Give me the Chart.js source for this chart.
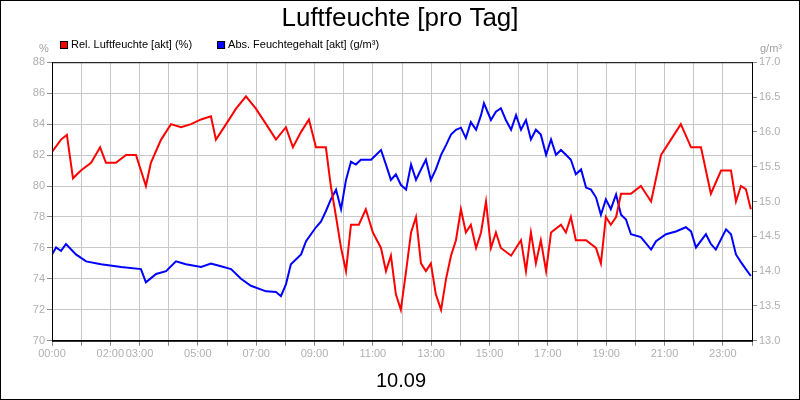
<!DOCTYPE html>
<html>
<head>
<meta charset="utf-8">
<script src="https://cdn.jsdelivr.net/npm/chart.js@4"></script>
<style>
  body { margin: 0; background: #fff; }
  #wrap { width: 798px; height: 398px; border: 1px solid #000; }
</style>
</head>
<body>
<div id="wrap"><canvas id="chart" width="798" height="398"></canvas></div>
<script>
// hours of day, rel. humidity (%)
const relHours = [0, 0.31, 0.51, 0.72, 0.99, 1.34, 1.65, 1.85, 2.19, 2.54, 2.88, 3.22, 3.39, 3.74, 4.08, 4.42, 4.77, 5.11, 5.45, 5.62, 5.97, 6.31, 6.65, 6.99, 7.34, 7.68, 8.02, 8.26, 8.54, 8.81, 9.05, 9.39, 9.56, 9.74, 9.91, 10.08, 10.25, 10.52, 10.76, 11.0, 11.28, 11.45, 11.62, 11.79, 11.96, 12.14, 12.31, 12.48, 12.65, 12.82, 12.99, 13.16, 13.34, 13.51, 13.68, 13.85, 14.02, 14.19, 14.36, 14.54, 14.71, 14.88, 15.05, 15.22, 15.39, 15.74, 16.08, 16.25, 16.42, 16.59, 16.76, 16.94, 17.11, 17.45, 17.62, 17.79, 17.96, 18.31, 18.65, 18.82, 18.99, 19.16, 19.34, 19.51, 19.85, 20.19, 20.54, 20.88, 21.22, 21.56, 21.91, 22.25, 22.42, 22.59, 22.94, 23.28, 23.45, 23.62, 23.79, 23.96];
const relValues = [82.2, 83, 83.3, 80.5, 81, 81.5, 82.5, 81.5, 81.5, 82, 82, 80, 81.5, 83, 84, 83.8, 84, 84.3, 84.5, 83, 84, 85, 85.8, 85, 84, 83, 83.8, 82.5, 83.5, 84.3, 82.5, 82.5, 80, 78, 76, 74.5, 77.5, 77.5, 78.5, 77, 76, 74.5, 75.5, 73, 72, 74.5, 77, 78, 75, 74.5, 75, 73, 72, 74, 75.5, 76.5, 78.5, 77, 77.5, 76, 77, 79, 76, 77, 76, 75.5, 76.5, 74.5, 77, 75, 76.5, 74.5, 77, 77.5, 77, 78, 76.5, 76.5, 76, 75, 78, 77.5, 78, 79.5, 79.5, 80, 79, 82, 83, 84, 82.5, 82.5, 81, 79.5, 81, 81, 79, 80, 79.8, 78.5];

// hours of day, abs. moisture content (g/m³)
const absHours = [0, 0.14, 0.31, 0.48, 0.82, 1.17, 1.68, 2.37, 3.05, 3.22, 3.57, 3.91, 4.25, 4.59, 5.11, 5.45, 5.79, 6.14, 6.48, 6.82, 7.34, 7.68, 7.85, 8.02, 8.19, 8.54, 8.71, 9.05, 9.22, 9.39, 9.56, 9.74, 9.91, 10.08, 10.25, 10.42, 10.59, 10.94, 11.28, 11.45, 11.62, 11.79, 11.96, 12.14, 12.31, 12.48, 12.65, 12.82, 12.99, 13.16, 13.34, 13.51, 13.68, 13.85, 14.02, 14.19, 14.36, 14.54, 14.71, 14.81, 15.05, 15.22, 15.39, 15.56, 15.74, 15.91, 16.08, 16.25, 16.42, 16.59, 16.76, 16.94, 17.11, 17.28, 17.45, 17.62, 17.79, 17.96, 18.14, 18.31, 18.48, 18.65, 18.82, 18.99, 19.16, 19.34, 19.51, 19.68, 19.85, 20.19, 20.54, 20.71, 21.05, 21.39, 21.73, 21.91, 22.08, 22.42, 22.59, 22.76, 23.11, 23.28, 23.45, 23.62, 23.79, 23.96];
const absValues = [14.24, 14.34, 14.29, 14.39, 14.24, 14.14, 14.10, 14.06, 14.03, 13.84, 13.96, 14.0, 14.14, 14.10, 14.06, 14.11, 14.07, 14.03, 13.89, 13.79, 13.71, 13.70, 13.64, 13.81, 14.10, 14.24, 14.43, 14.63, 14.71, 14.86, 15.03, 15.17, 14.89, 15.31, 15.57, 15.53, 15.6, 15.6, 15.74, 15.53, 15.31, 15.39, 15.24, 15.17, 15.53, 15.31, 15.46, 15.6, 15.31, 15.46, 15.67, 15.81, 15.96, 16.03, 16.06, 15.91, 16.14, 16.03, 16.24, 16.41, 16.17, 16.29, 16.34, 16.17, 16.03, 16.24, 16.03, 16.17, 15.89, 16.03, 15.96, 15.67, 15.89, 15.67, 15.74, 15.67, 15.6, 15.39, 15.46, 15.2, 15.17, 15.06, 14.81, 15.03, 14.89, 15.1, 14.81, 14.74, 14.53, 14.49, 14.31, 14.43, 14.53, 14.57, 14.63, 14.57, 14.34, 14.53, 14.39, 14.31, 14.6, 14.53, 14.24, 14.13, 14.03, 13.93];

const labelHours = [0, 2, 3, 5, 7, 9, 11, 13, 15, 17, 19, 21, 23];
const dayLabel = "10.09";

const pad = n => String(n).padStart(2, "0") + ":00";
const tickFont = { family: "Liberation Sans", size: 11 };

// legend, unit labels, frame and date drawn by hand
const extras = {
  id: "extras",
  afterDraw(chart) {
    const { ctx, chartArea: a } = chart;
    ctx.save();
    ctx.strokeStyle = "#000";
    ctx.lineWidth = 1;
    ctx.strokeRect(a.left + 0.5, a.top + 0.5, a.right - a.left, a.bottom - a.top);

    ctx.font = "11px Liberation Sans";
    ctx.textBaseline = "middle";
    let x = 59;
    chart.data.datasets.forEach(ds => {
      ctx.fillStyle = ds.borderColor;
      ctx.fillRect(x, 40, 8, 8);
      ctx.strokeStyle = "#000";
      ctx.strokeRect(x + 0.5, 40.5, 7, 7);
      ctx.fillStyle = "#000";
      ctx.textAlign = "left";
      ctx.fillText(ds.label, x + 11, 44);
      x += ctx.measureText(ds.label).width + 11 + 25;
    });

    ctx.fillStyle = "#a0a0a0";
    ctx.textAlign = "center";
    ctx.fillText("%", 43, 48);
    ctx.fillText("g/m³", 770, 48);
    ctx.fillStyle = "#000";
    ctx.textBaseline = "alphabetic";
    ctx.font = "20px Liberation Sans";
    ctx.fillText(dayLabel, 400, 386);
    ctx.restore();
  }
};

new Chart(document.getElementById("chart"), {
  type: "line",
  data: {
    datasets: [
      {
        label: "Rel. Luftfeuchte [akt] (%)",
        data: relHours.map((h, i) => ({ x: h, y: relValues[i] })),
        borderColor: "#ff0000",
        backgroundColor: "#ff0000",
        borderWidth: 2,
        pointRadius: 0,
        yAxisID: "y"
      },
      {
        label: "Abs. Feuchtegehalt [akt] (g/m³)",
        data: absHours.map((h, i) => ({ x: h, y: absValues[i] })),
        borderColor: "#0000ff",
        backgroundColor: "#0000ff",
        borderWidth: 2,
        pointRadius: 0,
        yAxisID: "y2"
      }
    ]
  },
  plugins: [extras],
  options: {
    responsive: false,
    animation: false,
    layout: { padding: { top: 0, left: 0, right: 0, bottom: 36 } },
    plugins: {
      title: {
        display: true,
        text: "Luftfeuchte [pro Tag]",
        color: "#000",
        font: { family: "Liberation Sans", size: 26, weight: "normal" },
        padding: { top: 2, bottom: 28 }
      },
      legend: { display: false },
      tooltip: { enabled: false }
    },
    scales: {
      x: {
        type: "linear",
        min: 0,
        max: 24,
        afterBuildTicks: axis => {
          axis.ticks = Array.from({ length: 25 }, (_, i) => ({ value: i }));
        },
        ticks: {
          autoSkip: false,
          maxRotation: 0,
          color: "#b0b0b0",
          font: tickFont,
          padding: 2,
          callback: v => (labelHours.includes(v) ? pad(v) : "")
        },
        grid: { color: "#c8c8c8", tickLength: 5, tickColor: "#888" },
        border: { color: "#000" }
      },
      y: {
        position: "left",
        min: 70,
        max: 88,
        afterFit: s => { s.width = 51; },
        ticks: { stepSize: 2, color: "#b0b0b0", font: tickFont, padding: 2 },
        grid: { color: "#c8c8c8", tickLength: 5, tickColor: "#888" },
        border: { color: "#000" }
      },
      y2: {
        position: "right",
        min: 13,
        max: 17,
        afterFit: s => { s.width = 47; },
        ticks: { stepSize: 0.5, color: "#b0b0b0", font: tickFont, padding: 2, callback: v => v.toFixed(1) },
        grid: { drawOnChartArea: false, tickLength: 5, tickColor: "#888" },
        border: { color: "#000" }
      }
    }
  }
});
</script>
</body>
</html>
